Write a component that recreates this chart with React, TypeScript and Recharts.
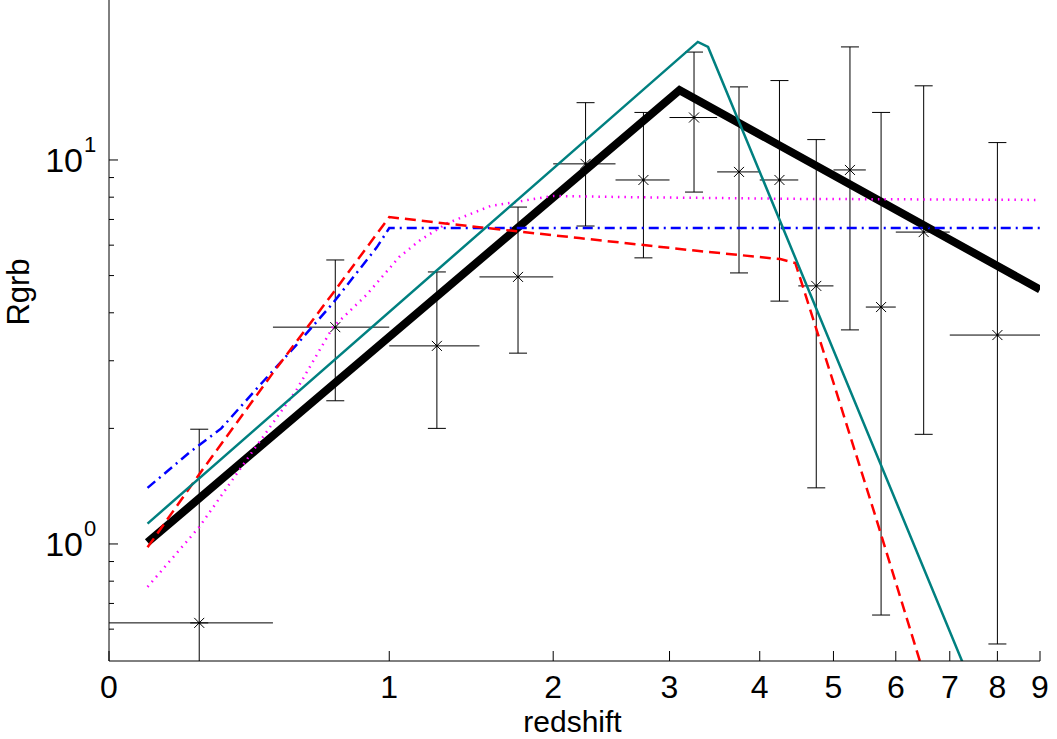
import React from "react"
import { ComposedChart, Line, Scatter, ErrorBar, XAxis, YAxis, Label } from "recharts"

// x ticks (redshift) – the axis itself runs in log10(1 + z)
const xTickLabels = [0, 1, 2, 3, 4, 5, 6, 7, 8, 9]
const yTicks = [0.6, 0.7, 0.8, 0.9, 1, 2, 3, 4, 5, 6, 7, 8, 9, 10]
const yMajor = [1, 10]
const yDomain = [0.4957, 26.1]

// binned data points
const binZ = [0.25, 0.75, 1.25, 1.75, 2.25, 2.75, 3.25, 3.75, 4.25, 4.75, 5.25, 5.75, 6.5, 8]
const binZLo = [0, 0.5, 1, 1.5, 2, 2.5, 3, 3.5, 4, 4.5, 5, 5.5, 6, 7]
const binZHi = [0.5, 1, 1.5, 2, 2.5, 3, 3.5, 4, 4.5, 5, 5.5, 6, 7, 9]
const binR = [0.623, 3.67, 3.28, 4.96, 9.77, 8.87, 12.9, 9.31, 8.87, 4.7, 9.42, 4.14, 6.49, 3.5]
// null = the lower error runs off the bottom of the plot
const binRLo = [null, 2.36, 2.0, 3.14, 6.73, 5.56, 8.25, 5.08, 4.29, 1.4, 3.61, 0.653, 1.93, 0.549]
const binRHi = [1.99, 5.49, 5.11, 7.54, 14.1, 13.3, 19.1, 15.5, 16.1, 11.3, 19.7, 13.3, 15.6, 11.1]

// model curves
const blackZ = [0.1, 3.1, 9]
const blackR = [1.01, 15.2, 4.6]

const tealZ = [0.1, 3.29, 3.4, 7.3]
const tealR = [1.13, 20.3, 19.7, 0.477]

const redZ = [0.1, 0.26, 0.5, 0.74, 1.0, 1.38, 2.2, 3.28, 4.26, 4.46, 5.0, 5.65, 6.5]
const redR = [0.98, 1.56, 2.79, 4.5, 7.1, 6.77, 6.26, 5.8, 5.52, 5.39, 2.63, 1.19, 0.46]

const blueZ = [0.1, 0.22, 0.32, 0.46, 0.59, 0.74, 0.94, 1.0, 9]
const blueR = [1.4, 1.73, 2.0, 2.63, 3.3, 4.24, 5.93, 6.65, 6.65]

const magentaZ = [0.1, 0.25, 0.38, 0.49, 0.59, 0.74, 0.89, 1.05, 1.16, 1.31, 1.57, 2.0, 2.65, 4.5, 9]
const magentaR = [0.773, 1.107, 1.557, 2.02, 2.52, 3.67, 4.45, 5.59, 6.19, 6.85, 7.59, 8.06, 8.0, 7.92, 7.87]

const FONT = "'Liberation Sans', Arial, Helvetica, sans-serif"

const lg = (z: number) => Math.log10(1 + z)
const toLine = (zs: number[], rs: number[]) => zs.map((z, i) => ({ x: lg(z), y: rs[i] }))

const points = binZ.map((z, i) => {
  const lo = binRLo[i]
  return {
    x: lg(z),
    y: binR[i],
    ex: [lg(z) - lg(binZLo[i]), lg(binZHi[i]) - lg(z)],
    // capped bar; an open-ended bar keeps its lower cap hidden under the x bar
    ey: [lo == null ? 0 : binR[i] - lo, binRHi[i] - binR[i]],
    // uncapped lower part down to the axis
    eyOpen: lo == null ? [binR[i] - yDomain[0], 0] : undefined,
  }
})

const xTicks = xTickLabels.map(lg)

function XTick(props: any) {
  const { x, y, index } = props
  return (
    <g>
      <line x1={x} x2={x} y1={y} y2={y - 10} stroke="#000" strokeWidth={1} />
      <text x={x} y={y + 37} textAnchor="middle" fontSize={32} fontFamily={FONT} fill="#000">
        {xTickLabels[index]}
      </text>
    </g>
  )
}

function YTick(props: any) {
  const { x, y, payload } = props
  const v = payload.value
  const major = yMajor.includes(v)
  return (
    <g>
      <line x1={x} x2={x + (major ? 9 : 5)} y1={y} y2={y} stroke="#000" strokeWidth={1} />
      {major && (
        <text fontFamily={FONT} fill="#000">
          <tspan x={x - 26} y={y + 12.5} textAnchor="end" fontSize={34}>10</tspan>
          <tspan x={x - 25} y={y - 8} textAnchor="start" fontSize={22}>
            {Math.round(Math.log10(v))}
          </tspan>
        </text>
      )}
    </g>
  )
}

function Cross(props: any) {
  const { cx, cy } = props
  return (
    <g>
      <line x1={cx - 5} y1={cy - 5} x2={cx + 5} y2={cy + 5} stroke="#000" strokeWidth={1} />
      <line x1={cx - 5} y1={cy + 5} x2={cx + 5} y2={cy - 5} stroke="#000" strokeWidth={1} />
      <circle cx={cx} cy={cy} r={1.2} fill="#000" />
    </g>
  )
}

export default function App() {
  return (
    <div style={{ position: "absolute", left: 0, top: 0, background: "#fff" }}>
      <ComposedChart width={1057} height={739} margin={{ top: 0, right: 17, bottom: 0, left: 0 }}>
        <XAxis
          type="number"
          dataKey="x"
          domain={[0, 1]}
          ticks={xTicks}
          interval={0}
          tick={XTick}
          tickLine={false}
          tickSize={0}
          tickMargin={0}
          height={78}
          allowDataOverflow
          axisLine={{ stroke: "#000", strokeWidth: 1 }}
        >
          <Label
            content={(p: any) => (
              <text
                x={p.viewBox.x + p.viewBox.width / 2 - 2}
                y={p.viewBox.y + 71}
                textAnchor="middle"
                fontSize={30}
                fontFamily={FONT}
                fill="#000"
              >
                redshift
              </text>
            )}
          />
        </XAxis>
        <YAxis
          type="number"
          scale="log"
          domain={yDomain}
          ticks={yTicks}
          interval={0}
          tick={YTick}
          tickLine={false}
          tickSize={0}
          tickMargin={0}
          width={109}
          allowDataOverflow
          axisLine={{ stroke: "#000", strokeWidth: 1 }}
        >
          <Label
            content={(p: any) => (
              <text
                transform={`translate(${p.viewBox.x + 28.5}, ${p.viewBox.y + 292}) rotate(-90)`}
                textAnchor="middle"
                fontSize={31}
                fontFamily={FONT}
                fill="#000"
              >
                Rgrb
              </text>
            )}
          />
        </YAxis>
        <Scatter data={points} dataKey="y" shape={Cross} isAnimationActive={false}>
          <ErrorBar dataKey="ex" direction="x" width={0} stroke="#000" strokeWidth={1} isAnimationActive={false} />
          <ErrorBar dataKey="ey" direction="y" width={9} stroke="#000" strokeWidth={1} isAnimationActive={false} />
          <ErrorBar dataKey="eyOpen" direction="y" width={0} stroke="#000" strokeWidth={1} isAnimationActive={false} />
        </Scatter>
        <Line data={toLine(blackZ, blackR)} dataKey="y" type="linear" stroke="#000" strokeWidth={8} dot={false} activeDot={false} isAnimationActive={false} />
        <Line data={toLine(blueZ, blueR)} dataKey="y" type="linear" stroke="#0000ff" strokeWidth={2.5} strokeDasharray="10 5 2 5" dot={false} activeDot={false} isAnimationActive={false} />
        <Line data={toLine(magentaZ, magentaR)} dataKey="y" type="linear" stroke="#ff00ff" strokeWidth={2.5} strokeDasharray="1.5 5" dot={false} activeDot={false} isAnimationActive={false} />
        <Line data={toLine(redZ, redR)} dataKey="y" type="linear" stroke="#ff0000" strokeWidth={2.5} strokeDasharray="11 6" dot={false} activeDot={false} isAnimationActive={false} />
        <Line data={toLine(tealZ, tealR)} dataKey="y" type="linear" stroke="#008080" strokeWidth={2.5} dot={false} activeDot={false} isAnimationActive={false} />
      </ComposedChart>
    </div>
  )
}
